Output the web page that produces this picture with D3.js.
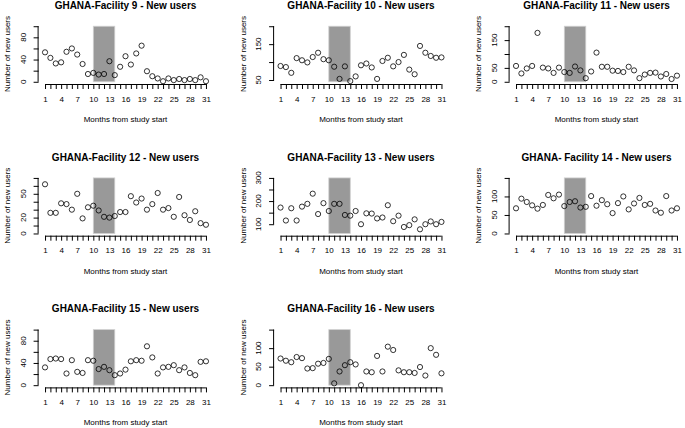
<!DOCTYPE html>
<html><head><meta charset="utf-8">
<script src="https://cdn.jsdelivr.net/npm/d3@7"></script>
<style>
body{margin:0;background:#fff}
svg{display:block}
text{font-family:"Liberation Sans",Arial,Helvetica,sans-serif;fill:#000}
</style>
</head><body>
<svg id="chart" width="685" height="428"></svg>
<script>
// ---------------- data ----------------
const months = [1,2,3,4,5,6,7,8,9,10,11,12,13,14,15,16,17,18,19,20,21,22,23,24,25,26,27,28,29,30,31];
const xTickLabels = [1,4,7,10,13,16,19,22,25,28,31];
const titles = [
  "GHANA-Facility 9 - New users",
  "GHANA-Facility 10 - New users",
  "GHANA-Facility 11 - New users",
  "GHANA-Facility 12 - New users",
  "GHANA-Facility 13 - New users",
  "GHANA- Facility 14 - New users",
  "GHANA-Facility 15 - New users",
  "GHANA-Facility 16 - New users"
];
const xTitle = "Months from study start";
const yTitle = "Number of new users";

const facility9  = [53,43,33,35,54,60,49,32,14,16,13,14,37,12,27,46,31,51,65,19,10,6,1,6,3,5,3,5,3,8,1];
const facility10 = [89,86,70,111,105,99,114,126,108,105,87,53,88,47,60,91,96,85,53,103,112,88,100,120,79,66,145,126,117,112,113];
const facility11 = [57,30,48,57,176,51,48,32,51,35,32,55,41,13,37,105,54,54,40,39,35,54,41,13,26,32,33,19,28,10,22];
const facility12 = [62,26,26,38,37,30,50,19,33,35,29,21,20,22,27,27,47,39,44,30,37,51,30,32,21,46,23,17,28,13,11];
const facility13 = [172,116,169,116,176,188,232,144,191,157,188,188,140,137,157,100,147,146,125,129,182,113,137,88,96,121,78,100,112,100,110];
const facility14 = [68,94,85,76,67,77,104,95,105,74,85,87,70,72,101,75,90,79,55,82,100,65,81,96,77,80,62,56,101,62,68];
const facility15 = [32,47,48,47,21,45,24,22,45,44,29,33,27,18,21,28,43,45,44,70,50,21,32,33,36,27,32,22,18,42,43];
const facility16 = [72,66,62,76,73,45,46,58,60,71,5,37,54,62,56,0,37,35,79,37,104,95,40,35,35,33,49,26,100,82,32];
const series = [facility9,facility10,facility11,facility12,facility13,facility14,facility15,facility16];

const yLimits = [[0,100],[45,200],[0,200],[0,70],[60,300],[0,150],[0,100],[0,150]];
const yTickValues = [
  [0,20,40,60,80,100],
  [50,100,150,200],
  [0,50,100,150,200],
  [0,10,20,30,40,50,60,70],
  [100,150,200,250,300],
  [0,50,100,150],
  [0,20,40,60,80,100],
  [0,50,100,150]
];
const yTickLabels = [
  [0,40,80],
  [50,150],
  [0,50,150],
  [0,20,50],
  [100,200,300],
  [0,50,100],
  [0,40,80],
  [0,50,100]
];
const shadeMonths = [10,14];

// ---------------- drawing ----------------
const svg = d3.select("#chart");
const colStep = 235.5, rowStep = 151.7;
const plotL = 38.6, plotR = 212.4, plotT = 24, plotB = 84;

const x = d3.scaleLinear().domain([-0.2, 32.2]).range([plotL, plotR]);

series.forEach((vals, i) => {
  const col = i % 3, row = Math.floor(i / 3);
  const g = svg.append("g").attr("transform", `translate(${col*colStep},${row*rowStep})`);
  const [lo, hi] = yLimits[i];
  const ext = (hi - lo) * 0.04;
  const y = d3.scaleLinear().domain([lo - ext, hi + ext]).range([plotB, plotT]);

  // shaded intervention period
  g.append("rect")
    .attr("x", x(shadeMonths[0]))
    .attr("width", x(shadeMonths[1]) - x(shadeMonths[0]))
    .attr("y", y(hi))
    .attr("height", y(lo) - y(hi))
    .attr("fill", "#999999")
    .attr("stroke", "#d0d0d0")
    .attr("stroke-width", 0.8);

  // x axis
  const xAxis = d3.axisBottom(x)
    .tickValues(months)
    .tickSize(5)
    .tickPadding(7)
    .tickFormat(d => xTickLabels.includes(d) ? d : "");
  const xg = g.append("g").attr("transform", `translate(0,${plotB})`).call(xAxis);
  xg.select(".domain").remove();
  xg.append("line")
    .attr("x1", x(months[0])).attr("x2", x(months[months.length-1]))
    .attr("y1", 0.5).attr("y2", 0.5)
    .attr("stroke", "#000");
  xg.selectAll(".tick line").attr("stroke", "#000");
  xg.selectAll(".tick text").attr("font-size", 8).attr("font-family", '"Liberation Sans",Arial,sans-serif').attr("fill", "#000");

  // y axis
  const ticks = yTickValues[i];
  const yAxis = d3.axisLeft(y).tickValues(ticks).tickSize(5).tickFormat("");
  const yg = g.append("g").attr("transform", `translate(${plotL},0)`).call(yAxis);
  yg.select(".domain").remove();
  yg.append("line")
    .attr("x1", -0.5).attr("x2", -0.5)
    .attr("y1", y(ticks[0])).attr("y2", y(ticks[ticks.length-1]))
    .attr("stroke", "#000");
  yg.selectAll(".tick line").attr("stroke", "#000");
  yg.selectAll("text.ylab").data(yTickLabels[i]).enter().append("text")
    .attr("class", "ylab")
    .attr("transform", d => `translate(-15.5,${y(d)}) rotate(-90)`)
    .attr("text-anchor", "middle")
    .attr("dominant-baseline", "central")
    .attr("font-size", 8)
    .text(d => d);

  // points
  g.selectAll("circle.pt").data(vals).enter().append("circle")
    .attr("class", "pt")
    .attr("cx", (d, j) => x(months[j]))
    .attr("cy", d => y(d))
    .attr("r", 2.6)
    .attr("fill", "none")
    .attr("stroke", "#000")
    .attr("stroke-width", 0.8);

  // titles
  g.append("text")
    .attr("x", (plotL + plotR) / 2).attr("y", 9)
    .attr("text-anchor", "middle")
    .attr("font-size", 10).attr("font-weight", "bold")
    .text(titles[i]);
  g.append("text")
    .attr("x", (plotL + plotR) / 2).attr("y", 122)
    .attr("text-anchor", "middle")
    .attr("font-size", 8)
    .text(xTitle);
  g.append("text")
    .attr("transform", `translate(${plotL - 31},${(plotT + plotB) / 2}) rotate(-90)`)
    .attr("text-anchor", "middle")
    .attr("dominant-baseline", "central")
    .attr("font-size", 8)
    .text(yTitle);
});
</script>
</body></html>
